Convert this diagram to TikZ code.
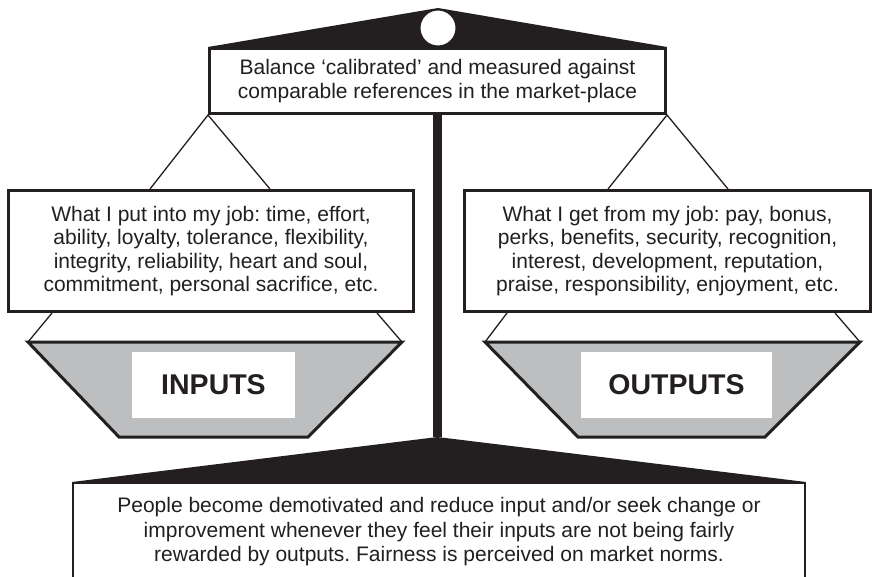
\documentclass[tikz,border=0pt]{standalone}
\usepackage{fontspec}
\setmainfont{Liberation Sans}
\usetikzlibrary{positioning, calc}
\definecolor{inkcol}{RGB}{35, 31, 32}
\definecolor{pancol}{RGB}{188, 190, 192}
\frenchspacing

\begin{document}
\begin{tikzpicture}[x=1pt, y=-1pt,
      txtbox/.style={rectangle,draw=inkcol,line width=3pt,fill=white,text=inkcol,inner sep=0pt,align=center,font=\fontsize{21}{23.5}\selectfont},
      lbl/.style={rectangle,fill=white,text=inkcol,inner sep=0pt,minimum height=66pt,font=\fontsize{28.5}{30}\selectfont\bfseries},
      hang/.style={draw=inkcol,line width=1.3pt},
      pan/.style={draw=inkcol,fill=pancol,line width=3pt}]
    \clip (0, 0) rectangle (872, 576);
    % beam with pivot
    \coordinate (top)  at (438, 8);
    \coordinate (foot) at (437.5, 437);
    \node[txtbox, minimum width=456pt, minimum height=65pt] (beam) at (437.5, 81)
      {Balance ‘calibrated’ and measured against\\comparable references in the market-place};
    \fill[inkcol] (beam.north west) -- (top) -- (beam.north east) -- cycle;
    \node[circle, draw=inkcol, fill=white, line width=1pt, minimum size=36pt, inner sep=0pt] (pivot) at (438, 28) {};
    % post and base
    \draw[inkcol, line width=9pt] (beam.south) -- (foot);
    \node[txtbox, line width=2pt, minimum width=732pt, minimum height=98pt, font=\fontsize{21}{24.5}\selectfont] (rule) at (439, 532)
      {People become demotivated and reduce input and/or seek change or\\improvement whenever they feel their inputs are not being fairly\\rewarded by outputs. Fairness is perceived on market norms.};
    \fill[inkcol] (rule.north west) -- (foot) -- (rule.north east) -- cycle;
    % hanging boxes
    \node[txtbox, minimum width=405pt, minimum height=121pt] (gives) at (211, 251)
      {What I put into my job: time, effort,\\ability, loyalty, tolerance, flexibility,\\integrity, reliability, heart and soul,\\commitment, personal sacrifice, etc.};
    \node[txtbox, minimum width=406pt, minimum height=121pt] (gets) at (667.5, 251)
      {What I get from my job: pay, bonus,\\perks, benefits, security, recognition,\\interest, development, reputation,\\praise, responsibility, enjoyment, etc.};
    \coordinate (g1) at (150, 189);
    \coordinate (g2) at (270, 189);
    \coordinate (g3) at (608, 189);
    \coordinate (g4) at (728, 189);
    \draw[hang] (g1) -- (beam.south west) -- (g2);
    \draw[hang] (g3) -- (beam.south east) -- (g4);
    % pans
    \coordinate (pl1) at (28, 342);
    \coordinate (pl2) at (402, 342);
    \coordinate (pl3) at (308, 437);
    \coordinate (pl4) at (119, 437);
    \coordinate (pr1) at (485, 342);
    \coordinate (pr2) at (860, 342);
    \coordinate (pr3) at (765, 437);
    \coordinate (pr4) at (578, 437);
    \coordinate (h1) at (52, 313);
    \coordinate (h2) at (377, 313);
    \coordinate (h3) at (507, 313);
    \coordinate (h4) at (835, 313);
    \draw[hang] (h1) -- (pl1);
    \draw[hang] (h2) -- (pl2);
    \draw[hang] (h3) -- (pr1);
    \draw[hang] (h4) -- (pr2);
    \draw[pan] (pl1) -- (pl2) -- (pl3) -- (pl4) -- cycle;
    \draw[pan] (pr1) -- (pr2) -- (pr3) -- (pr4) -- cycle;
    \node[lbl, minimum width=163pt] (inputs)  at (213.5, 385) {INPUTS};
    \node[lbl, minimum width=191pt] (outputs) at (676.5, 385) {OUTPUTS};
\end{tikzpicture}
\end{document}
